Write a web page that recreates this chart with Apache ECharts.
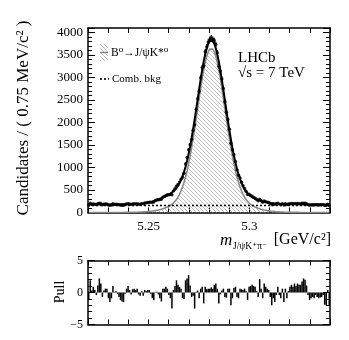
<!DOCTYPE html>
<html>
<head>
<meta charset="utf-8">
<script src="https://cdn.jsdelivr.net/npm/echarts@6/dist/echarts.min.js"></script>
<style>html,body{margin:0;padding:0;background:#fff;}#c{width:349px;height:340px;}</style>
</head>
<body>
<div id="c"></div>
<script>
// ---- binning ----
const massLow = 5.22;
const massHigh = 5.34;
const binWidth = 0.00075;

// ---- data counts per bin (160 bins) ----
const dataCounts = [
167,205,184,192,185,175,195,209,199,171,
184,188,188,168,160,168,193,181,183,177,
171,165,162,162,179,190,197,188,180,191,
193,191,195,184,183,197,192,210,213,223,
230,230,229,235,266,278,284,288,294,342,
358,380,393,393,404,396,481,527,586,621,
676,739,783,875,1078,1222,1395,1505,1622,1830,
1951,2291,2528,2693,2995,3220,3258,3571,3681,3787,
3847,3880,3847,3823,3735,3551,3252,3143,2966,2756,
2460,2227,2067,1851,1540,1396,1285,1135,948,826,
766,673,595,534,471,400,408,381,361,337,
318,290,262,296,262,229,256,242,231,223,
202,179,191,180,192,208,187,179,198,167,
195,174,188,196,200,195,202,196,201,198,
197,204,209,207,195,175,164,168,171,168,
175,171,168,169,171,175,155,153,185,153
];

// ---- total fit curve ----
const fitTotal = [
180,180,180,180,180,180,180,180,180,180,
180,180,180,180,180,180,180,180,180,180,
180,181,181,182,182,182,183,183,184,184,
185,186,187,188,190,194,199,204,210,217,
224,233,242,253,264,276,289,303,317,332,
348,364,382,401,422,446,473,505,543,592,
653,723,808,905,1018,1148,1298,1463,1650,1852,
2064,2286,2513,2740,2962,3169,3356,3518,3651,3750,
3810,3830,3810,3750,3650,3515,3350,3160,2950,2725,
2495,2265,2040,1825,1620,1430,1260,1105,970,852,
750,660,585,520,467,425,390,362,339,319,
302,287,274,262,252,243,235,228,222,217,
212,208,204,201,198,195,193,191,190,188,
187,186,185,184,184,183,183,182,182,182,
181,181,180,180,180,180,180,180,180,180,
180,180,180,180,180,180,180,180,180,180
];

// ---- signal component B0 -> J/psi K*0 ----
const signalFit = [
0,0,0,0,0,0,0,0,0,0,
0,0,0,0,0,0,0,0,0,0,
0,1,1,2,2,2,3,3,4,4,
5,6,7,8,10,11,13,15,18,21,
24,28,32,37,42,48,55,63,72,82,
94,107,122,139,159,182,210,245,287,340,
405,480,570,672,790,925,1080,1250,1440,1645,
1860,2085,2315,2545,2770,2980,3170,3335,3470,3570,
3630,3650,3630,3570,3470,3335,3170,2980,2770,2545,
2315,2085,1860,1645,1440,1250,1080,925,790,672,
570,480,405,340,287,245,210,182,159,139,
122,107,94,82,72,63,55,48,42,37,
32,28,24,21,18,15,13,11,10,8,
7,6,5,4,4,3,3,2,2,2,
1,1,0,0,0,0,0,0,0,0,
0,0,0,0,0,0,0,0,0,0
];

// ---- combinatorial background (flat) ----
const combBkg = [155, 155];

// ---- pulls ----
const pulls = [
-1.0,1.9,0.3,0.9,0.4,-0.4,1.1,2.2,1.4,-0.7,
0.3,0.6,0.6,-0.9,-1.5,-0.9,1.0,0.1,0.2,-0.2,
-0.7,-1.2,-1.4,-1.5,-0.2,0.6,1.0,0.4,-0.3,0.5,
0.6,0.4,0.6,-0.3,-0.5,0.2,-0.5,0.4,0.2,0.4,
0.4,-0.2,-0.9,-1.2,0.1,0.1,-0.3,-0.9,-1.4,0.6,
0.6,0.9,0.6,-0.4,-0.9,-2.5,0.4,1.0,1.9,1.2,
0.9,0.6,-0.9,-1.0,1.9,2.2,2.7,1.1,-0.7,-0.5,
-2.5,0.1,0.3,-0.9,0.6,0.9,-1.7,0.9,0.5,0.6,
0.6,0.8,0.6,1.2,1.4,0.6,-1.7,-0.3,0.3,0.6,
-0.7,-0.8,0.6,0.6,-2.0,-0.9,0.7,0.9,-0.7,-0.9,
0.6,0.5,0.4,0.6,0.2,-1.2,0.9,1.0,1.2,1.0,
0.9,0.2,-0.7,2.1,0.6,-0.9,1.4,0.9,0.6,0.4,
-0.7,-2.0,-0.9,-1.5,-0.4,0.9,-0.4,-0.9,0.6,-1.5,
0.6,-0.9,0.2,0.9,1.2,0.9,1.4,1.0,1.4,1.2,
1.2,1.7,2.2,2.0,1.1,-0.4,-1.2,-0.9,-0.7,-0.9,
-0.4,-0.7,-0.9,-0.8,-0.7,-0.4,-1.9,-2.0,0.4,-2.0
];

// ---- tick labels ----
const xTickLabels = [5.25, 5.3];
const yTickLabels = [0, 500, 1000, 1500, 2000, 2500, 3000, 3500, 4000];
const pullTickLabels = [-5, 0, 5];

// bin centres
const binCenters = dataCounts.map((_, i) => +(massLow + (i + 0.5) * binWidth).toFixed(6));

const FONT = '"Liberation Serif", "DejaVu Serif", serif';

// hatch pattern
const hc = document.createElement('canvas');
hc.width = 4; hc.height = 4;
const g = hc.getContext('2d');
g.strokeStyle = '#a8a8a8'; g.lineWidth = 0.7;
g.beginPath();
g.moveTo(0, 0); g.lineTo(4, 4);
g.moveTo(-2, 2); g.lineTo(2, 6);
g.moveTo(2, -2); g.lineTo(6, 2);
g.stroke();
const hatch = { image: hc, repeat: 'repeat' };

const chart = echarts.init(document.getElementById('c'), null, { renderer: 'canvas' });

function near(v, list, eps) { return list.some(t => Math.abs(v - t) < eps); }

const xCommon = {
  type: 'value', min: massLow, max: massHigh, interval: 0.01,
  axisLine: { show: true, onZero: false, lineStyle: { color: '#000', width: 1.5 } },
  axisTick: { show: true, inside: true, length: 5, lineStyle: { color: '#000', width: 1 } },
  splitLine: { show: false }
};
const yTickStyle = {
  axisLine: { show: true, onZero: false, lineStyle: { color: '#000', width: 1.5 } },
  axisTick: { show: true, inside: true, length: 7, lineStyle: { color: '#000', width: 1 } },
  minorTick: { show: true, splitNumber: 5, length: 4, lineStyle: { color: '#000', width: 1 } },
  splitLine: { show: false }, minorSplitLine: { show: false }
};

const option = {
  animation: false,
  backgroundColor: '#fff',
  grid: [
    { left: 88, right: 19, top: 28, height: 184.5 },
    { left: 88, right: 19, top: 260.5, height: 64 }
  ],
  xAxis: [
    Object.assign({}, xCommon, { gridIndex: 0, position: 'bottom',
      axisLabel: { show: true, margin: 8, fontFamily: FONT, fontSize: 13, color: '#000',
        formatter: v => near(v, xTickLabels, 1e-6) ? String(+v.toFixed(2)) : '' } }),
    Object.assign({}, xCommon, { gridIndex: 0, position: 'top', axisLabel: { show: false } }),
    Object.assign({}, xCommon, { gridIndex: 1, position: 'bottom', axisLabel: { show: false } }),
    Object.assign({}, xCommon, { gridIndex: 1, position: 'top', axisLabel: { show: false } })
  ],
  yAxis: [
    Object.assign({}, yTickStyle, { gridIndex: 0, type: 'value', position: 'left', min: 0, max: 4100, interval: 500,
      axisLabel: { show: true, margin: 5, fontFamily: FONT, fontSize: 13, color: '#000',
        formatter: v => near(v, yTickLabels, 1e-6) ? String(v) : '' } }),
    Object.assign({}, yTickStyle, { gridIndex: 0, type: 'value', position: 'right', min: 0, max: 4100, interval: 500,
      axisLabel: { show: false } }),
    Object.assign({}, yTickStyle, { gridIndex: 1, type: 'value', position: 'left', min: -5, max: 5, interval: 5,
      axisLabel: { show: true, margin: 5, fontFamily: FONT, fontSize: 12, color: '#000',
        formatter: v => near(v, pullTickLabels, 1e-6) ? String(v).replace('-', '\u2212') : '' } }),
    Object.assign({}, yTickStyle, { gridIndex: 1, type: 'value', position: 'right', min: -5, max: 5, interval: 5,
      axisLabel: { show: false } })
  ],
  series: [
    {
      name: 'signal', type: 'line', xAxisIndex: 0, yAxisIndex: 0,
      data: binCenters.map((m, i) => [m, signalFit[i]]),
      showSymbol: false, smooth: false,
      lineStyle: { color: '#8a8a8a', width: 1.6 },
      areaStyle: { color: hatch, opacity: 1 },
      z: 2
    },
    {
      name: 'comb', type: 'line', xAxisIndex: 0, yAxisIndex: 0,
      data: [[massLow, combBkg[0]], [massHigh, combBkg[1]]],
      showSymbol: false,
      lineStyle: { color: '#000', width: 1.6, type: [2, 2] },
      z: 3
    },
    {
      name: 'errors', type: 'custom', xAxisIndex: 0, yAxisIndex: 0,
      data: binCenters.map((m, i) => [m, dataCounts[i], Math.sqrt(dataCounts[i])]),
      renderItem: function (params, api) {
        const x = api.value(0), y = api.value(1), e = api.value(2);
        const p1 = api.coord([x, y - e]);
        const p2 = api.coord([x, y + e]);
        return { type: 'line', shape: { x1: p1[0], y1: p1[1], x2: p2[0], y2: p2[1] },
          style: { stroke: '#000', lineWidth: 1.2 } };
      },
      z: 4
    },
    {
      name: 'data', type: 'scatter', xAxisIndex: 0, yAxisIndex: 0,
      data: binCenters.map((m, i) => [m, dataCounts[i]]),
      symbol: 'circle', symbolSize: 3.4,
      itemStyle: { color: '#000' },
      z: 5
    },
    {
      name: 'fit', type: 'line', xAxisIndex: 0, yAxisIndex: 0,
      data: binCenters.map((m, i) => [m, fitTotal[i]]),
      showSymbol: false,
      lineStyle: { color: '#000', width: 2 },
      z: 6
    },
    {
      name: 'pull', type: 'bar', xAxisIndex: 2, yAxisIndex: 2,
      data: binCenters.map((m, i) => [m, pulls[i]]),
      barWidth: 1.5,
      itemStyle: { color: '#000' },
      z: 3
    }
  ],
  graphic: [
    { type: 'text', x: 24, y: 118, rotation: Math.PI / 2,
      style: { text: 'Candidates / ( 0.75 MeV/c\u00B2 )', font: '17px ' + FONT, fill: '#000',
        textAlign: 'center', textVerticalAlign: 'middle' } },
    { type: 'text', x: 60, y: 292, rotation: Math.PI / 2,
      style: { text: 'Pull', font: '14px ' + FONT, fill: '#000',
        textAlign: 'center', textVerticalAlign: 'middle' } },
    { type: 'text', x: 238, y: 58,
      style: { text: 'LHCb', font: '15px ' + FONT, fill: '#000', textAlign: 'left', textVerticalAlign: 'middle' } },
    { type: 'text', x: 238, y: 73,
      style: { text: '\u221As = 7 TeV', font: '15px ' + FONT, fill: '#000', textAlign: 'left', textVerticalAlign: 'middle' } },
    // x-axis title
    { type: 'text', x: 220, y: 241,
      style: { text: 'm', font: 'italic 17px ' + FONT, fill: '#000', textAlign: 'left', textVerticalAlign: 'middle' } },
    { type: 'text', x: 233, y: 246,
      style: { text: 'J/\u03C8K\u207A\u03C0\u207B', font: '9.5px ' + FONT, fill: '#000', textAlign: 'left', textVerticalAlign: 'middle' } },
    { type: 'text', x: 331, y: 240,
      style: { text: '[GeV/c\u00B2]', font: '16px ' + FONT, fill: '#000', textAlign: 'right', textVerticalAlign: 'middle' } },
    // legend
    { type: 'rect', shape: { x: 100, y: 44, width: 8, height: 17 }, style: { fill: hatch, stroke: null } },
    { type: 'line', shape: { x1: 100, y1: 52.5, x2: 108, y2: 52.5 }, style: { stroke: '#8a8a8a', lineWidth: 1.6 } },
    { type: 'text', x: 111, y: 53,
      style: { text: 'B\u2070\u2192J/\u03C8K*\u2070', font: '11.5px ' + FONT, fill: '#000', textAlign: 'left', textVerticalAlign: 'middle' } },
    { type: 'line', shape: { x1: 100, y1: 79, x2: 109, y2: 79 }, style: { stroke: '#000', lineWidth: 1.6, lineDash: [2, 2] } },
    { type: 'text', x: 112, y: 79,
      style: { text: 'Comb. bkg', font: '11px ' + FONT, fill: '#000', textAlign: 'left', textVerticalAlign: 'middle' } }
  ]
};
chart.setOption(option);
</script>
</body>
</html>
